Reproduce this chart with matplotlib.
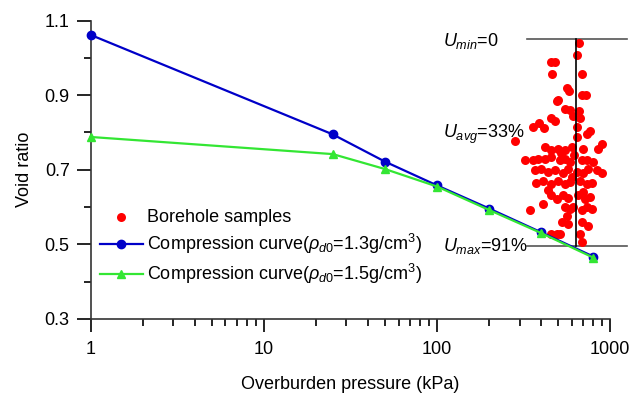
import matplotlib
matplotlib.use("Agg")
import matplotlib.pyplot as plt
from matplotlib.ticker import FixedLocator, NullFormatter

plt.rcParams["font.family"] = ["Liberation Sans", "DejaVu Sans"]
plt.rcParams["mathtext.fontset"] = "custom"
plt.rcParams["mathtext.rm"] = "Liberation Sans"
plt.rcParams["mathtext.it"] = "Liberation Sans:italic"

# Compression curves
pressure = [1, 25, 50, 100, 200, 400, 800]
void_13 = [1.062, 0.795, 0.722, 0.658, 0.596, 0.532, 0.467]
void_15 = [0.788, 0.742, 0.702, 0.655, 0.592, 0.530, 0.464]

# Borehole samples (kPa, void ratio)
bore_p = [660, 640, 458, 479, 462, 684, 560, 578, 684, 728, 500, 490, 545, 585, 659,
          612, 668, 453, 479, 388, 360, 412, 640, 764, 731, 640, 281,
          419, 458, 501, 547, 598, 700, 893, 855,
          321, 359, 384, 419, 458, 512, 547, 585, 684, 731, 800,
          367, 401, 438, 479, 535, 572, 640, 700, 748, 836, 893,
          375, 410, 458, 501, 547, 585, 669, 731, 782,
          458, 490, 535, 572, 654, 715, 764,
          410, 343, 547, 585, 612, 684, 731, 782,
          524, 572, 684, 748, 458, 490, 512, 669, 684,
          620, 520, 600, 440, 700, 560]
bore_e = [1.040, 1.008, 0.989, 0.989, 0.957, 0.958, 0.919, 0.910, 0.900, 0.900, 0.888, 0.884,
          0.862, 0.860, 0.858, 0.845, 0.838, 0.838, 0.831, 0.826, 0.815, 0.813, 0.815, 0.804,
          0.797, 0.789, 0.778,
          0.761, 0.752, 0.757, 0.752, 0.761, 0.757, 0.770, 0.757,
          0.725, 0.725, 0.730, 0.730, 0.734, 0.725, 0.730, 0.720, 0.725, 0.725, 0.720,
          0.700, 0.703, 0.695, 0.700, 0.690, 0.703, 0.695, 0.690, 0.703, 0.700, 0.690,
          0.665, 0.670, 0.661, 0.670, 0.661, 0.667, 0.670, 0.661, 0.665,
          0.631, 0.622, 0.631, 0.625, 0.631, 0.622, 0.628,
          0.609, 0.591, 0.600, 0.595, 0.600, 0.591, 0.600, 0.595,
          0.559, 0.555, 0.559, 0.550, 0.528, 0.528, 0.528, 0.528, 0.505,
          0.740, 0.745, 0.680, 0.645, 0.640, 0.575]

# Consolidation degree markers
u_top, u_bottom = 1.05, 0.495
u_line_x = [330, 1250]
u_mid_x = 632
u_labels = [r"$U_{min}$=0", r"$U_{avg}$=33%", r"$U_{max}$=91%"]
u_label_y = [1.031, 0.786, 0.481]

fig = plt.figure(figsize=(6.33, 3.98), dpi=100)
ax = fig.add_axes([0.143, 0.199, 0.821, 0.749])

ax.scatter(bore_p, bore_e, s=42, color="#ff0000", linewidths=0, zorder=2,
           label="Borehole samples")
ax.plot(pressure, void_13, color="#0000c8", lw=1.6, marker="o", ms=6, clip_on=False,
        zorder=3, label=r"Compression curve($\rho_{d0}$=1.3g/cm$^3$)")
ax.plot(pressure, void_15, color="#33e633", lw=1.6, marker="^", ms=6, clip_on=False,
        zorder=3, label=r"Compression curve($\rho_{d0}$=1.5g/cm$^3$)")

# U lines
ax.plot(u_line_x, [u_top, u_top], color="#555555", lw=1.2, clip_on=False, zorder=1)
ax.plot(u_line_x, [u_bottom, u_bottom], color="#555555", lw=1.2, clip_on=False, zorder=1)
ax.plot([u_mid_x, u_mid_x], [u_top, u_bottom], color="black", lw=1.2, zorder=4)
for lab, yy in zip(u_labels, u_label_y):
    ax.text(108, yy, lab, fontsize=13, ha="left", va="baseline")

ax.set_xscale("log")
ax.set_xlim(1, 1000)
ax.set_ylim(0.3, 1.1)
ax.set_yticks([0.3, 0.5, 0.7, 0.9, 1.1])
ax.set_yticklabels(["0.3", "0.5", "0.7", "0.9", "1.1"])
ax.yaxis.set_minor_locator(FixedLocator([0.4, 0.6, 0.8, 1.0]))
ax.set_xticks([1, 10, 100, 1000])
ax.set_xticklabels(["1", "10", "100", "1000"])
ax.xaxis.set_minor_formatter(NullFormatter())

for s in ["top", "right"]:
    ax.spines[s].set_visible(False)
for s in ["left", "bottom"]:
    ax.spines[s].set_linewidth(1.2)
    ax.spines[s].set_color("#333333")
ax.tick_params(which="major", direction="out", length=10, width=1.2, labelsize=13, pad=5)
ax.tick_params(which="minor", direction="out", length=5, width=1.2)
ax.tick_params(axis="x", which="major", length=9, pad=7)

ax.set_xlabel("Overburden pressure (kPa)", fontsize=13, labelpad=13)
ax.set_ylabel("Void ratio", fontsize=13, labelpad=8)

ax.legend(loc="upper left", bbox_to_anchor=(0.0, 0.40), frameon=False, fontsize=13,
          handlelength=2.4, handletextpad=0.25, labelspacing=0.35, borderaxespad=0.2,
          borderpad=0.3)

fig.savefig("out.png", dpi=100)
